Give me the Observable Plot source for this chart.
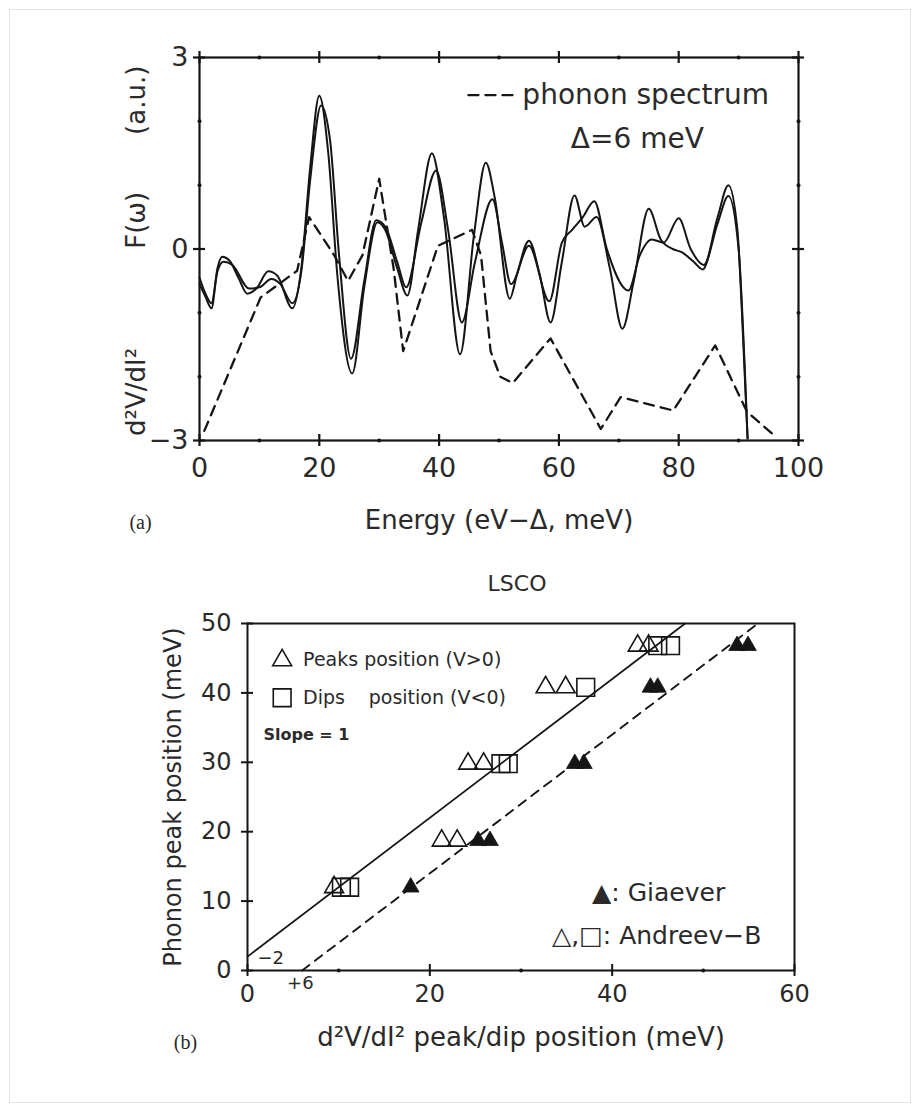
<!DOCTYPE html>
<html><head><meta charset="utf-8">
<script src="https://cdn.jsdelivr.net/npm/d3@7"></script>
<script src="https://cdn.jsdelivr.net/npm/@observablehq/plot@0.6"></script>
<style>
html,body{margin:0;padding:0;background:#fff;}
#page{position:relative;width:920px;height:1112px;overflow:hidden;background:#fff;}
#page .border{position:absolute;left:9px;top:9px;right:9px;bottom:9px;border:1px solid #e4e4e4;}
#pa,#pb{position:absolute;left:0;}
#pa{top:0px;}
#pb{top:560px;}
svg{overflow:visible;}
</style></head>
<body><div id="page"><div class="border"></div><div id="pa"></div><div id="pb"></div></div>
<script>
// ---------- Panel (a) data ----------
const aE = [0,1,2,3,3.8,5,6.5,8,9.5,11.5,13,15.5,17,18.5,20,21.5,23,25.5,27.5,29.7,31,33,34.7,36.5,38.8,40.8,43.5,45.8,47.8,49.3,51.8,53,55,56.8,58.6,60.5,62.6,64.3,66.3,68.5,70.6,72.5,75,77,79,80.5,82.5,84,86.5,88.3,89.8,90.8,91.5];
const aV = [-0.55,-0.75,-0.93,-0.3,-0.12,-0.18,-0.45,-0.7,-0.62,-0.35,-0.42,-0.93,-0.3,1.3,2.4,1.5,-0.4,-1.95,-0.6,0.42,0.3,-0.3,-0.73,0.3,1.5,0.5,-1.65,0.2,1.35,0.8,-0.78,-0.4,0.13,-0.4,-1.15,-0.2,0.84,0.35,0.5,-0.3,-1.25,-0.5,0.63,0.15,0.0,-0.05,-0.2,-0.32,0.5,1.0,0.3,-1.5,-2.97];
const bE = [0,1,2,3,4,5.5,8.3,10,12,13.5,15.5,17,18.5,20.3,21.8,23.3,25.3,27.5,29.5,31,33,34.5,37,39.5,41.5,43.8,46,48.9,50.5,52,55,58.4,60.5,62.2,64,65.9,68,71.6,73.5,75.5,77.5,80,82,84.2,86.5,88.3,90,91,91.5];
const bV = [-0.45,-0.7,-0.85,-0.35,-0.2,-0.25,-0.62,-0.6,-0.47,-0.55,-0.85,-0.35,1.1,2.25,1.7,-0.1,-1.72,-0.5,0.45,0.35,-0.2,-0.6,0.4,1.23,0.3,-1.15,-0.2,0.78,0.1,-0.55,0.05,-0.82,0.1,0.3,0.5,0.75,0.0,-0.65,-0.1,0.15,0.1,0.48,0.0,-0.25,0.4,0.83,0.0,-1.8,-2.97];
const phE = [0.8,10.2,16.3,18.3,22.5,24.8,27.2,30,32.4,34,39.8,45.5,47,48.6,50.2,52.3,58.6,67,70.3,79.1,86.1,91.4,95.7];
const phV = [-2.85,-0.76,-0.34,0.5,-0.1,-0.5,-0.1,1.1,-0.3,-1.6,0.05,0.3,-0.1,-1.6,-2.0,-2.1,-1.4,-2.82,-2.32,-2.53,-1.51,-2.55,-2.9];
const aXMajor = [0,20,40,60,80,100], aXMinor = [10,30,50,70,90];
const aYMajor = [-3,0,3], aYMinor = [-2,-1,1,2];
const aYLabels = [{y:2.33,t:"(a.u.)"},{y:0.45,t:"F(ω)"},{y:-2.24,t:"d²V/dI²"}];

// ---------- Panel (b) data ----------
const peakX = [9.5,21.3,23.0,24.2,25.9,32.7,34.9,42.8,44.0];
const peakY = [12,18.7,18.7,29.8,29.8,40.8,40.8,46.8,46.8];
const dipX  = [10.3,11.2,27.8,28.6,37.1,45.0,46.4];
const dipY  = [12,12,29.8,29.8,40.8,46.8,46.8];
const giaX  = [17.9,25.3,26.6,35.9,36.9,44.2,45.0,53.7,54.9];
const giaY  = [12,18.7,18.7,29.8,29.8,40.8,40.8,46.8,46.8];
const fitSolidX = [0,48], fitSolidY = [2,50];
const fitDashX = [6,56], fitDashY = [0,50];
const bXMajor = [0,20,40,60], bXMinor = [10,30,50];
const bYMajor = [0,10,20,30,40,50];

const ink = "#151515";
const zip = (xs, ys) => xs.map((x,i)=>({x, y: ys[i]}));
const FONT = "'DejaVu Sans', sans-serif";

// ---------- Plot (a) ----------
const pa = Plot.plot({
  width: 920, height: 560,
  marginTop: 57, marginBottom: 120, marginLeft: 199, marginRight: 122,
  x: {domain: [0,100], axis: null},
  y: {domain: [-3,3], axis: null},
  style: {fontFamily: FONT, color: "#222", background: "transparent", overflow: "visible"},
  marks: [
    Plot.frame({stroke: ink, strokeWidth: 2.2}),
    Plot.ruleX(aXMajor, {x: d=>d, y1: -3.094, y2: -2.906, stroke: ink, strokeWidth: 2.2}),
    Plot.ruleX(aXMajor, {x: d=>d, y1: 2.906, y2: 3.094, stroke: ink, strokeWidth: 2.2}),
    Plot.ruleY(aYMajor, {y: d=>d, x1: -1, x2: 1, stroke: ink, strokeWidth: 2.2}),
    Plot.ruleY(aYMajor, {y: d=>d, x1: 99, x2: 101, stroke: ink, strokeWidth: 2.2}),
    Plot.dot(aXMinor, {x: d=>d, y: -3, r: 2, fill: ink, stroke: null}),
    Plot.dot(aXMinor, {x: d=>d, y: 3, r: 2, fill: ink, stroke: null}),
    Plot.dot(aYMinor, {x: 0, y: d=>d, r: 2, fill: ink, stroke: null}),
    Plot.dot(aYMinor, {x: 100, y: d=>d, r: 2, fill: ink, stroke: null}),
    Plot.text(aXMajor, {x: d=>d, y: -3, dy: 28, text: d=>String(d), fontSize: 27, fill: "#2a2a2a"}),
    Plot.text(aYMajor, {x: 0, y: d=>d, dx: -11, textAnchor: "end", text: d=> d<0 ? "−"+(-d) : String(d), fontSize: 27, fill: "#2a2a2a"}),
    Plot.text(aYLabels, {x: 0, y: "y", text: "t", rotate: -90, dx: -63, fontSize: 26, textAnchor: "middle", lineAnchor: "middle", fill: "#2a2a2a"}),
    Plot.line(zip(phE, phV), {x: "x", y: "y", stroke: ink, strokeWidth: 2.3, strokeDasharray: "10,7"}),
    Plot.line(zip(aE, aV), {x: "x", y: "y", stroke: ink, strokeWidth: 2, curve: "monotone-x"}),
    Plot.line(zip(bE, bV), {x: "x", y: "y", stroke: ink, strokeWidth: 2, curve: "monotone-x"}),
    // legend
    Plot.line([{x:44.9,y:2.41},{x:53.3,y:2.41}], {x: "x", y: "y", stroke: ink, strokeWidth: 2.3, strokeDasharray: "10,7"}),
    Plot.text([{x:53.9,y:2.41,t:"phonon spectrum"}], {x:"x", y:"y", text:"t", textAnchor:"start", fontSize: 28, fill:"#2a2a2a"}),
    Plot.text([{x:73.1,y:1.73,t:"Δ=6 meV"}], {x:"x", y:"y", text:"t", fontSize: 28, fill:"#2a2a2a"}),
    Plot.text(["Energy (eV−Δ, meV)"], {frameAnchor: "bottom", dy: 80, text: d=>d, textAnchor: "middle", lineAnchor: "middle", fontSize: 26, fill: "#2a2a2a"}),
    Plot.text(["(a)"], {frameAnchor: "bottom-left", dx: -59, dy: 82, text: d=>d, textAnchor: "middle", lineAnchor: "middle", fontSize: 20, fontFamily: "'Liberation Serif', serif", fill: "#2a2a2a"})
  ]
});
document.getElementById("pa").appendChild(pa);

// ---------- Plot (b) ----------
const pb = Plot.plot({
  width: 920, height: 552,
  marginTop: 63, marginBottom: 142, marginLeft: 247, marginRight: 126,
  x: {domain: [0,60], axis: null},
  y: {domain: [0,50], axis: null},
  style: {fontFamily: FONT, color: "#222", background: "transparent", overflow: "visible"},
  marks: [
    Plot.frame({stroke: ink, strokeWidth: 2}),
    Plot.ruleX(bXMajor, {x: d=>d, y1: -0.86, y2: 0.86, stroke: ink, strokeWidth: 2}),
    Plot.ruleY(bYMajor, {y: d=>d, x1: -0.66, x2: 0.66, stroke: ink, strokeWidth: 2}),
    Plot.dot(bXMinor, {x: d=>d, y: 0, r: 2, fill: ink, stroke: null}),
    Plot.text(bXMajor, {x: d=>d, y: 0, dy: 24, text: d=>String(d), fontSize: 24, fill: "#2a2a2a"}),
    Plot.text(bYMajor, {x: 0, y: d=>d, dx: -16, textAnchor: "end", text: d=>String(d), fontSize: 24, fill: "#2a2a2a"}),
    Plot.text(["Phonon peak position (meV)"], {frameAnchor: "left", dx: -74, rotate: -90, text: d=>d, textAnchor: "middle", lineAnchor: "middle", fontSize: 24, fill: "#2a2a2a"}),
    Plot.text(["d²V/dI² peak/dip position (meV)"], {frameAnchor: "bottom", dy: 67, text: d=>d, textAnchor: "middle", lineAnchor: "middle", fontSize: 26, fill: "#2a2a2a"}),
    Plot.text(["LSCO"], {frameAnchor: "top", dy: -40, dx: -4, text: d=>d, textAnchor: "middle", lineAnchor: "middle", fontSize: 22, fill: "#2a2a2a"}),
    Plot.text(["(b)"], {frameAnchor: "bottom-left", dx: -62, dy: 72, text: d=>d, textAnchor: "middle", lineAnchor: "middle", fontSize: 20, fontFamily: "'Liberation Serif', serif", fill: "#2a2a2a"}),
    Plot.line(zip(fitSolidX, fitSolidY), {x:"x", y:"y", stroke: ink, strokeWidth: 1.7}),
    Plot.line(zip(fitDashX, fitDashY), {x:"x", y:"y", stroke: ink, strokeWidth: 1.9, strokeDasharray: "9,7"}),
    Plot.dot(zip(dipX, dipY), {x:"x", y:"y", symbol: "square", r: 10, fill: "none", stroke: ink, strokeWidth: 1.6}),
    Plot.dot(zip(peakX, peakY), {x:"x", y:"y", symbol: "triangle", r: 7, fill: "none", stroke: ink, strokeWidth: 1.6}),
    Plot.dot(zip(giaX, giaY), {x:"x", y:"y", symbol: "triangle", r: 6.2, fill: ink, stroke: ink, strokeWidth: 0.8}),
    Plot.text([{x:1.1,y:1.7,t:"−2"}], {x:"x", y:"y", text:"t", textAnchor:"start", fontSize: 18, fill:"#2a2a2a"}),
    Plot.text([{x:5.8,y:-1.9,t:"+6"}], {x:"x", y:"y", text:"t", fontSize: 18, fill:"#2a2a2a"}),
    // legend
    Plot.dot([{x:3.8,y:44.7}], {x:"x", y:"y", symbol:"triangle", r: 7, fill:"none", stroke: ink, strokeWidth: 1.6}),
    Plot.dot([{x:3.8,y:39.3}], {x:"x", y:"y", symbol:"square", r: 10, fill:"none", stroke: ink, strokeWidth: 1.6}),
    Plot.text([{x:6.1,y:44.7,t:"Peaks position (V>0)"},{x:6.1,y:39.3,t:"Dips"},{x:13.3,y:39.3,t:"position (V<0)"}], {x:"x", y:"y", text:"t", textAnchor:"start", fontSize: 19, fill:"#2a2a2a"}),
    Plot.text([{x:1.75,y:33.9,t:"Slope = 1"}], {x:"x", y:"y", text:"t", textAnchor:"start", fontSize: 16, fontWeight: "bold", fill:"#2a2a2a"}),
    Plot.text([{x:37.8,y:11.1,t:"▲: Giaever"},{x:33.4,y:5.0,t:"△,□: Andreev−B"}], {x:"x", y:"y", text:"t", textAnchor:"start", fontSize: 25, fill:"#2a2a2a"})
  ]
});
document.getElementById("pb").appendChild(pb);
</script></body></html>
